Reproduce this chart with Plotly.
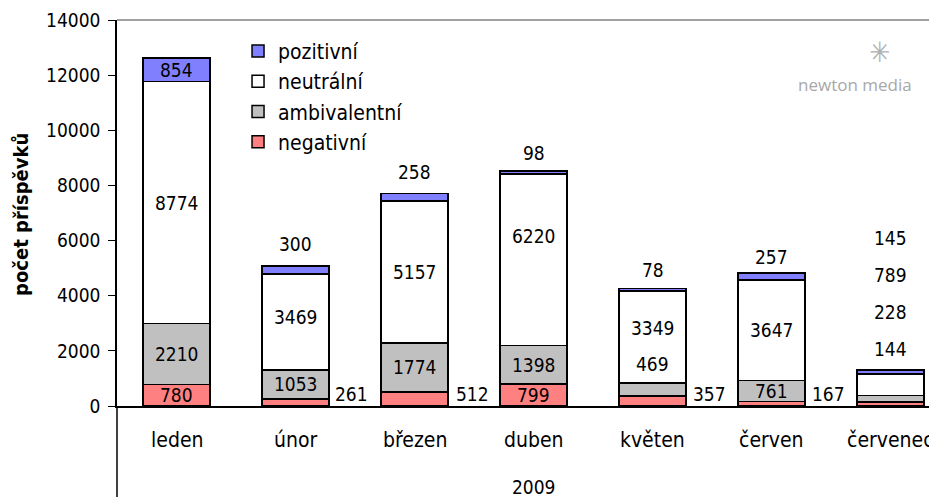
import plotly.graph_objects as go

# data
months = ["leden", "únor", "březen", "duben", "květen", "červen", "červenec"]
negativni = [780, 261, 512, 799, 357, 167, 144]
ambivalentni = [2210, 1053, 1774, 1398, 469, 761, 228]
neutralni = [8774, 3469, 5157, 6220, 3349, 3647, 789]
pozitivni = [854, 300, 258, 98, 78, 257, 145]
year_label = "2009"
y_ticks = [0, 2000, 4000, 6000, 8000, 10000, 12000, 14000]

FONT = "DejaVu Sans Condensed"
bar_w = 0.563

series = [
    ("negativní", negativni, "#FF8080"),
    ("ambivalentní", ambivalentni, "#C0C0C0"),
    ("neutrální", neutralni, "#FFFFFF"),
    ("pozitivní", pozitivni, "#8080FF"),
]

x = list(range(len(months)))
fig = go.Figure()
for name, vals, color in series:
    fig.add_trace(go.Bar(x=x, y=vals, name=name, width=bar_w,
                         marker=dict(color=color, line=dict(color="black", width=1.5))))

# where Excel put the data labels
above = {(1, "pozitivní"): 22, (2, "pozitivní"): 22, (3, "pozitivní"): 18,
         (4, "pozitivní"): 19, (5, "pozitivní"): 16,
         (6, "negativní"): 21, (6, "ambivalentní"): 58, (6, "neutrální"): 95, (6, "pozitivní"): 132}
right = {(1, "negativní"): 4, (2, "negativní"): 6, (4, "negativní"): 5, (5, "negativní"): 5}
nudge = {(1, "neutrální"): 5, (3, "neutrální"): 24, (4, "neutrální"): 9, (4, "ambivalentní"): 26}

totals = [sum(s[1][i] for s in series) for i in x]
bottom = [0] * len(x)
for name, vals, color in series:
    for i in x:
        key = (i, name)
        if key in above:
            fig.add_annotation(x=i, y=totals[i], text=str(vals[i]), yshift=above[key],
                               showarrow=False, yanchor="middle")
        elif key in right:
            fig.add_annotation(x=i + bar_w / 2, y=0, text=str(vals[i]), xanchor="left",
                               xshift=right[key], yshift=12, showarrow=False, yanchor="middle")
        else:
            fig.add_annotation(x=i, y=bottom[i] + vals[i] / 2, text=str(vals[i]),
                               yshift=nudge.get(key, 0), showarrow=False, yanchor="middle")
        bottom[i] += vals[i]

# category labels and the year group label
for i, m in enumerate(months):
    fig.add_annotation(x=i, y=0, yref="paper", text=m, yshift=-34, showarrow=False,
                       yanchor="middle", font=dict(size=21))
fig.add_annotation(x=3, y=0, yref="paper", text=year_label, yshift=-81, showarrow=False,
                   yanchor="middle")

# y axis title
fig.add_annotation(x=0, xref="paper", y=0.495, yref="paper", text="<b>počet příspěvků</b>",
                   textangle=-90, xanchor="center", yanchor="middle", xshift=-96,
                   showarrow=False, font=dict(size=20))

# logo
fig.add_annotation(x=0.93, xref="paper", y=0.915, yref="paper", text="✳", showarrow=False,
                   xanchor="center", yanchor="middle", font=dict(size=28, color="#B0B0B0"))
fig.add_annotation(x=0.9, xref="paper", y=0.832, yref="paper", text="newton media",
                   xanchor="center", yanchor="middle", showarrow=False,
                   font=dict(size=17, color="#A8A8A8", family="Open Sans"))

# frame lines
fig.add_shape(type="line", xref="paper", yref="paper", x0=0, x1=1, y0=1, y1=1,
              line=dict(color="#808080", width=1.5))
fig.add_shape(type="line", xref="paper", yref="paper", x0=0, x1=0, y0=0, y1=-0.24,
              line=dict(color="black", width=1.5))

fig.update_xaxes(range=[-0.5, 6.39], showticklabels=False, showline=True, linecolor="black",
                 linewidth=1.5, showgrid=False, zeroline=False, ticks="")
fig.update_yaxes(range=[0, 14000], tickvals=y_ticks, tickformat="d", showline=True,
                 linecolor="black", linewidth=1.5, showgrid=False, zeroline=False,
                 ticks="outside", ticklen=7, tickcolor="black", ticklabelstandoff=4,
                 tickfont=dict(size=19))

# the page adds an 8px body margin, so the figure is 8px smaller than the window
fig.update_layout(
    barmode="stack",
    width=929, height=489,
    margin=dict(l=109, r=0, t=12, b=91),
    plot_bgcolor="white", paper_bgcolor="white",
    font=dict(family=FONT, size=19, color="black"),
    legend=dict(x=0.1476, y=0.972, xanchor="left", yanchor="top", traceorder="reversed",
                bgcolor="rgba(0,0,0,0)", font=dict(size=21), itemwidth=30),
)

fig.write_html("out.html")
